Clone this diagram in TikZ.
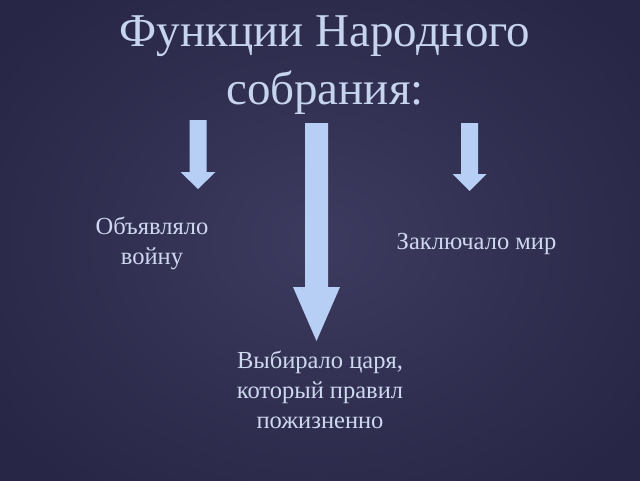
\documentclass[tikz,border=0pt]{standalone}
\usepackage{fontspec}
\setmainfont{Liberation Serif}
\definecolor{bgin}{RGB}{60,58,94}
\definecolor{bgout}{RGB}{40,38,70}
\definecolor{arrowc}{RGB}{183,207,245}
\definecolor{titlec}{RGB}{198,212,238}
\definecolor{textc}{RGB}{206,216,238}
\tikzset{
  titletext/.style={text=titlec, align=center, inner sep=0pt, font=\fontsize{47}{58}\selectfont},
  bodytext/.style={text=textc, align=center, inner sep=0pt, font=\fontsize{24.5}{30}\selectfont},
  blockarrow/.style={fill=arrowc, draw=none}
}
\begin{document}
\begin{tikzpicture}[x=1pt,y=-1pt]
\useasboundingbox (0,0) rectangle (640,480);
\shade[inner color=bgin, outer color=bgout] (-80,-80) rectangle (720,560);
% title (anchor=base is the baseline of the last line)
\node[titletext, anchor=base] (title) at (325,104) {Функции Народного\\собрания:};
% arrows
\fill[blockarrow] (189.5,120) -- (206.5,120) -- (206.5,172) -- (215.5,172) -- (198,189) -- (180.5,172) -- (189.5,172) -- cycle;
\fill[blockarrow] (305,123) -- (328,123) -- (328,287) -- (340,287) -- (316.5,341) -- (293,287) -- (305,287) -- cycle;
\fill[blockarrow] (461,123) -- (478,123) -- (478,174) -- (486.5,174) -- (469.5,191) -- (452.5,174) -- (461,174) -- cycle;
% texts
\node[bodytext, anchor=base] (war) at (152,264) {Объявляло\\войну};
\node[bodytext, anchor=base] (peace) at (476.5,249) {Заключало мир};
\node[bodytext, anchor=base] (king) at (320,428) {Выбирало царя,\\который правил\\пожизненно};
\end{tikzpicture}
\end{document}
